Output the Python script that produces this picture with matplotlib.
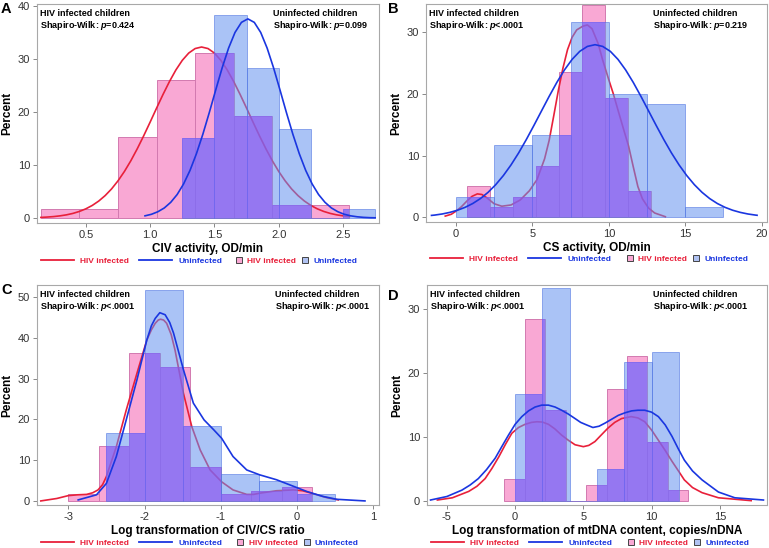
import matplotlib
matplotlib.use("Agg")
import matplotlib.pyplot as plt
import numpy as np
from matplotlib.lines import Line2D

plt.rcParams['font.family'] = ['Liberation Sans', 'DejaVu Sans']
plt.rcParams['mathtext.fontset'] = 'custom'
plt.rcParams['mathtext.rm'] = 'Liberation Sans'
plt.rcParams['mathtext.it'] = 'Liberation Sans:italic'
plt.rcParams['mathtext.bf'] = 'Liberation Sans:bold'
plt.rcParams['mathtext.bfit'] = 'Liberation Sans:italic:bold'

# ---- panel A: CIV activity ----
a_hiv_edges = [0.15, 0.45, 0.75, 1.05, 1.35, 1.65, 1.95, 2.25, 2.55]
a_hiv_pct = [1.7, 1.7, 15.2, 26.0, 31.0, 19.3, 2.5, 2.5]
a_un_edges = [1.25, 1.50, 1.75, 2.00, 2.25, 2.50, 2.75]
a_un_pct = [15.0, 38.3, 28.3, 16.7, 0.0, 1.7]
a_hiv_cx = [0.15, 0.20, 0.25, 0.30, 0.35, 0.40, 0.45, 0.50, 0.55, 0.60, 0.65, 0.70, 0.75,
            0.80, 0.85, 0.90, 0.95, 1.00, 1.05, 1.10, 1.15, 1.20, 1.25, 1.30, 1.35, 1.40,
            1.45, 1.50, 1.55, 1.60, 1.65, 1.70, 1.75, 1.80, 1.85, 1.90, 1.95, 2.00, 2.05,
            2.10, 2.15, 2.20, 2.25, 2.30, 2.35, 2.40, 2.45, 2.50, 2.55]
a_hiv_cy = [0.11, 0.18, 0.27, 0.41, 0.60, 0.87, 1.24, 1.73, 2.37, 3.19, 4.22, 5.48, 7.00,
            8.77, 10.79, 13.05, 15.49, 18.06, 20.69, 23.26, 25.69, 27.87, 29.69, 31.06, 31.91,
            32.2, 31.91, 31.06, 29.69, 27.87, 25.69, 23.26, 20.69, 18.06, 15.49, 13.05, 10.79,
            8.77, 7.00, 5.48, 4.22, 3.19, 2.37, 1.73, 1.24, 0.87, 0.60, 0.41, 0.27]
a_un_cx = [0.96, 1.01, 1.06, 1.11, 1.16, 1.21, 1.26, 1.31, 1.36, 1.41, 1.46, 1.51, 1.56,
           1.61, 1.66, 1.71, 1.76, 1.81, 1.86, 1.91, 1.96, 2.01, 2.06, 2.11, 2.16, 2.21,
           2.26, 2.31, 2.36, 2.41, 2.46, 2.51, 2.56, 2.61, 2.66, 2.71, 2.75]
a_un_cy = [0.41, 0.70, 1.18, 1.89, 2.95, 4.42, 6.41, 8.96, 12.11, 15.78, 19.85, 24.11, 28.27,
           31.99, 34.94, 36.84, 37.5, 36.84, 34.94, 31.99, 28.27, 24.11, 19.85, 15.78, 12.11,
           8.96, 6.41, 4.42, 2.95, 1.89, 1.18, 0.70, 0.41, 0.23, 0.12, 0.06, 0.04]
a_xticks = [0.5, 1.0, 1.5, 2.0, 2.5]
a_xticklabels = ['0.5', '1.0', '1.5', '2.0', '2.5']
a_yticks = [0, 10, 20, 30, 40]
a_p = ['=0.424', '=0.099']

# ---- panel B: CS activity ----
b_hiv_edges = [0.75, 2.25, 3.75, 5.25, 6.75, 8.25, 9.75, 11.25, 12.75]
b_hiv_pct = [5.0, 1.7, 3.3, 8.4, 23.5, 34.5, 19.3, 4.2]
b_un_edges = [0.0, 2.5, 5.0, 7.5, 10.0, 12.5, 15.0, 17.5]
b_un_pct = [3.3, 11.7, 13.3, 31.7, 20.0, 18.3, 1.7]
b_hiv_cx = [-0.7, -0.3, 0.0, 0.35, 0.7, 1.05, 1.4, 1.7, 2.0, 2.5, 3.0, 3.6, 4.2, 4.8, 5.3,
            5.8, 6.1, 6.4, 6.7, 7.0, 7.3, 7.6, 7.9, 8.3, 8.6, 8.9, 9.3, 9.6, 10.0, 10.3, 10.6,
            11.0, 11.3, 11.6, 11.9, 12.2, 12.6, 13.0, 13.7]
b_hiv_cy = [0.2, 0.5, 1.0, 1.7, 2.6, 3.4, 3.8, 3.7, 3.2, 2.2, 1.8, 2.0, 2.8, 4.3, 6.1,
            9.5, 12.5, 16.5, 20.6, 24.2, 27.2, 29.2, 30.4, 31.0, 31.2, 30.6, 28.2, 25.5, 22.3,
            20.0, 17.4, 14.0, 11.5, 8.2, 5.0, 3.0, 1.5, 0.7, 0.1]
b_un_cx = [-1.6, -1.4, -0.9, -0.4, 0.1, 0.6, 1.1, 1.6, 2.1, 2.6, 3.1, 3.6, 4.1, 4.6, 5.1,
           5.6, 6.1, 6.6, 7.1, 7.6, 8.1, 8.6, 9.1, 9.6, 10.1, 10.6, 11.1, 11.6, 12.1, 12.6,
           13.1, 13.6, 14.1, 14.6, 15.1, 15.6, 16.1, 16.6, 17.1, 17.6, 18.1, 18.6, 19.1, 19.6,
           19.7]
b_un_cy = [0.31, 0.36, 0.54, 0.80, 1.15, 1.62, 2.24, 3.04, 4.05, 5.29, 6.77, 8.49, 10.44,
           12.60, 14.90, 17.27, 19.63, 21.88, 23.91, 25.62, 26.92, 27.72, 28.0, 27.72, 26.92,
           25.62, 23.91, 21.88, 19.63, 17.27, 14.90, 12.60, 10.44, 8.49, 6.77, 5.29, 4.05,
           3.04, 2.24, 1.62, 1.15, 0.80, 0.54, 0.36, 0.33]
b_xticks = [0, 5, 10, 15, 20]
b_xticklabels = ['0', '5', '10', '15', '20']
b_yticks = [0, 10, 20, 30]
b_p = ['<.0001', '=0.219']

# ---- panel C: log CIV/CS ratio ----
c_hiv_edges = [-3.0, -2.6, -2.2, -1.8, -1.4, -1.0, -0.6, -0.2, 0.2]
c_hiv_pct = [1.7, 13.4, 36.2, 32.8, 8.4, 1.7, 2.5, 3.4]
c_un_edges = [-2.5, -2.0, -1.5, -1.0, -0.5, 0.0, 0.5]
c_un_pct = [16.7, 51.7, 18.3, 6.7, 5.0, 1.7]
c_hiv_cx = [-3.36, -3.15, -3.0, -2.88, -2.76, -2.68, -2.61, -2.55, -2.5, -2.37, -2.24, -2.1,
            -1.97, -1.91, -1.86, -1.82, -1.79, -1.75, -1.71, -1.65, -1.6, -1.49, -1.38, -1.27,
            -1.14, -0.99, -0.84, -0.66, -0.57, -0.49, -0.27, -0.05, 0.07, 0.17, 0.39, 0.54]
c_hiv_cy = [0.0, 0.6, 1.3, 1.5, 1.6, 2.0, 2.7, 4.0, 6.0, 13.3, 22.3, 31.3,
            39.5, 42.0, 43.6, 44.4, 44.6, 44.4, 43.6, 40.8, 37.0, 26.4, 18.2, 12.5,
            7.6, 4.7, 2.7, 1.6, 1.6, 1.9, 2.5, 2.7, 2.5, 2.0, 0.8, 0.25]
c_un_cx = [-2.87, -2.63, -2.5, -2.37, -2.24, -2.1, -1.97, -1.91, -1.86, -1.8, -1.73, -1.67,
           -1.62, -1.49, -1.36, -1.22, -1.09, -0.99, -0.84, -0.66, -0.49, -0.27, -0.09, 0.13,
           0.34, 0.52, 0.89]
c_un_cy = [0.25, 1.5, 4.3, 10.9, 19.9, 29.7, 39.5, 43.0, 44.8, 46.2, 45.7, 43.8,
           41.2, 32.2, 24.0, 19.9, 17.4, 15.4, 10.9, 7.6, 6.4, 5.2, 3.9, 2.3,
           1.1, 0.4, 0.0]
c_xticks = [-3, -2, -1, 0, 1]
c_xticklabels = ['-3', '-2', '-1', '0', '1']
c_yticks = [0, 10, 20, 30, 40, 50]
c_p = ['<.0001', '<.0001']

# ---- panel D: log mtDNA content ----
d_hiv_edges = [-0.8, 0.7, 2.2, 3.7, 5.2, 6.7, 8.2, 9.7, 11.2, 12.7]
d_hiv_pct = [3.4, 28.5, 14.3, 0.0, 2.5, 17.6, 22.7, 9.2, 1.7]
d_un_edges = [0.0, 2.0, 4.0, 6.0, 8.0, 10.0, 12.0]
d_un_pct = [16.7, 33.3, 0.0, 5.0, 21.7, 23.3]
d_hiv_cx = [-5.7, -4.6, -3.4, -2.8, -2.2, -1.7, -1.2, -0.7, -0.24, 0.25, 0.73, 1.2, 1.6,
            2.0, 2.44, 2.9, 3.41, 3.9, 4.39, 5.0, 5.4, 5.85, 6.3, 6.8, 7.3, 7.8, 8.5, 9.0,
            9.5, 10.0, 10.5, 11.0, 11.5, 12.0, 12.4, 13.0, 13.7, 14.9, 17.3]
d_hiv_cy = [0.15, 0.5, 1.5, 2.3, 3.5, 5.1, 6.9, 8.9, 10.6, 11.5, 12.0, 12.3, 12.4,
            12.35, 12.0, 11.3, 10.3, 9.5, 8.8, 8.5, 8.7, 9.3, 10.3, 11.4, 12.3, 12.9, 13.2,
            13.0, 12.4, 11.1, 9.5, 7.9, 6.2, 4.6, 3.3, 2.1, 1.3, 0.5, 0.05]
d_un_cx = [-6.2, -5.0, -3.9, -3.3, -2.7, -2.1, -1.46, -0.98, -0.49, 0.0, 0.49, 0.98, 1.46,
           1.95, 2.44, 2.93, 3.41, 3.9, 4.39, 4.8, 5.24, 5.7, 6.15, 6.6, 7.08, 7.56, 8.05,
           8.54, 9.0, 9.5, 10.0, 10.5, 11.0, 11.5, 11.95, 12.4, 13.0, 13.7, 14.9, 16.1, 18.2]
d_un_cy = [0.15, 0.7, 1.7, 2.5, 3.5, 4.9, 6.7, 8.5, 10.3, 12.0, 13.2, 14.1, 14.7,
           15.0, 15.0, 14.7, 14.2, 13.6, 12.9, 12.3, 11.9, 11.5, 11.7, 12.2, 12.8, 13.4, 13.8,
           14.1, 14.2, 14.2, 13.9, 13.2, 11.9, 10.1, 8.2, 6.4, 4.7, 3.3, 1.4, 0.5, 0.15]
d_xticks = [-5, 0, 5, 10, 15]
d_xticklabels = ['-5', '0', '5', '10', '15']
d_yticks = [0, 10, 20, 30]
d_p = ['<.0001', '<.0001']

xlabels = ['CIV activity, OD/min', 'CS activity, OD/min',
           'Log transformation of CIV/CS ratio',
           'Log transformation of mtDNA content, copies/nDNA']
letters = ['A', 'B', 'C', 'D']

RED = '#E8203A'
BLUE = '#1A36E0'
PINK = '#F9A8D4'
PINK_EDGE = '#D27AB0'
LBLUE = '#6492F0'
BLUE_EDGE = '#4A6FE0'
OVER = '#8554FF'

W, H = 769, 548
fig = plt.figure(figsize=(W / 100, H / 100), dpi=100)


def add_ax(l, t, r, b):
    return fig.add_axes([l / W, 1 - b / H, (r - l) / W, (b - t) / H])


def draw(ax, hiv_e, hiv_p, un_e, un_p, hx, hy, ux, uy, xlim, ylim,
         xt, xtl, yt, pvals, xlabel, right_pad, sq_x):
    hiv_e = np.array(hiv_e)
    un_e = np.array(un_e)
    ax.bar(hiv_e[:-1], hiv_p, width=np.diff(hiv_e), align='edge', color=PINK,
           edgecolor=PINK_EDGE, linewidth=0.7, zorder=1)
    ax.plot(hx, hy, color=RED, lw=1.2, zorder=2)
    ax.bar(un_e[:-1], un_p, width=np.diff(un_e), align='edge', color=LBLUE, alpha=0.55,
           edgecolor=BLUE_EDGE, linewidth=0.7, zorder=3)
    # darken region where both histograms overlap
    for i in range(len(hiv_p)):
        for j in range(len(un_p)):
            lo = max(hiv_e[i], un_e[j])
            hi = min(hiv_e[i + 1], un_e[j + 1])
            h = min(hiv_p[i], un_p[j])
            if hi > lo and h > 0:
                ax.bar(lo, h, width=hi - lo, align='edge', color=OVER, alpha=0.5,
                       linewidth=0, zorder=3.5)
    ax.plot(ux, uy, color=BLUE, lw=1.2, zorder=5)

    ax.set_xlim(*xlim)
    ax.set_ylim(*ylim)
    ax.set_xticks(xt)
    ax.set_xticklabels(xtl)
    ax.set_yticks(yt)
    ax.tick_params(direction='out', length=3, width=0.7, color='#888888',
                   labelcolor='#333333', labelsize=8, pad=2)
    for s in ax.spines.values():
        s.set_color('#A8A8A8')
        s.set_linewidth(0.8)
    ax.set_xlabel(xlabel, fontsize=8.5, fontweight='bold', labelpad=2)
    ax.set_ylabel('Percent', fontsize=8.5, fontweight='bold', labelpad=3)

    ax.text(0.01, 0.975, 'HIV infected children\nShapiro-Wilk: $\\mathbfit{p}$' + pvals[0],
            transform=ax.transAxes, ha='left', va='top', fontsize=6.5,
            fontweight='bold', linespacing=1.1, zorder=6)
    ax.text(1 - right_pad, 0.975, 'Uninfected children\nShapiro-Wilk: $\\mathbfit{p}$' + pvals[1],
            transform=ax.transAxes, ha='right', va='top', fontsize=6.5, multialignment='left',
            fontweight='bold', linespacing=1.1, zorder=6)

    ypos = -0.172
    h1 = [Line2D([], [], color=RED, lw=1.3), Line2D([], [], color=BLUE, lw=1.3)]
    leg1 = ax.legend(h1, ['HIV infected', 'Uninfected'], loc='center left',
                     bbox_to_anchor=(0.012, ypos), frameon=False, ncol=2, handlelength=3.9,
                     handletextpad=0.8, columnspacing=1.2, borderpad=0, borderaxespad=0,
                     prop={'size': 6, 'weight': 'bold'})
    for t, c in zip(leg1.get_texts(), [RED, BLUE]):
        t.set_color(c)
    ax.add_artist(leg1)
    h2 = [Line2D([], [], marker='s', ls='none', markersize=4.5, markerfacecolor=PINK,
                 markeredgecolor='#444444', markeredgewidth=0.7),
          Line2D([], [], marker='s', ls='none', markersize=4.5, markerfacecolor='#B0C2F2',
                 markeredgecolor='#444444', markeredgewidth=0.7)]
    leg2 = ax.legend(h2, ['HIV infected', 'Uninfected'], loc='center left',
                     bbox_to_anchor=(sq_x, ypos), frameon=False, ncol=2, handlelength=1.0,
                     handletextpad=0.5, columnspacing=0.6, borderpad=0, borderaxespad=0,
                     prop={'size': 6, 'weight': 'bold'})
    for t, c in zip(leg2.get_texts(), [RED, BLUE]):
        t.set_color(c)


ax_a = add_ax(37, 4, 379, 223)
draw(ax_a, a_hiv_edges, a_hiv_pct, a_un_edges, a_un_pct, a_hiv_cx, a_hiv_cy, a_un_cx, a_un_cy,
     (0.12, 2.78), (-0.94, 40.3), a_xticks, a_xticklabels, a_yticks, a_p, xlabels[0], 0.03, 0.578)

ax_b = add_ax(426, 4, 767, 222)
draw(ax_b, b_hiv_edges, b_hiv_pct, b_un_edges, b_un_pct, b_hiv_cx, b_hiv_cy, b_un_cx, b_un_cy,
     (-1.96, 20.35), (-0.76, 34.6), b_xticks, b_xticklabels, b_yticks, b_p, xlabels[1], 0.055, 0.585)

ax_c = add_ax(37, 285, 379, 505)
draw(ax_c, c_hiv_edges, c_hiv_pct, c_un_edges, c_un_pct, c_hiv_cx, c_hiv_cy, c_un_cx, c_un_cy,
     (-3.41, 1.074), (-1.0, 53.0), c_xticks, c_xticklabels, c_yticks, c_p, xlabels[2], 0.024, 0.582)

ax_d = add_ax(427, 285, 767, 505)
draw(ax_d, d_hiv_edges, d_hiv_pct, d_un_edges, d_un_pct, d_hiv_cx, d_hiv_cy, d_un_cx, d_un_cy,
     (-6.46, 18.46), (-0.63, 33.8), d_xticks, d_xticklabels, d_yticks, d_p, xlabels[3], 0.055, 0.588)

for (x, y), letter in zip([(1, 9), (388, 9), (1, 290), (388, 296)], letters):
    fig.text(x / W, 1 - y / H, letter, fontsize=10.5, fontweight='bold', ha='left', va='center')

fig.savefig('out.png', dpi=100)
